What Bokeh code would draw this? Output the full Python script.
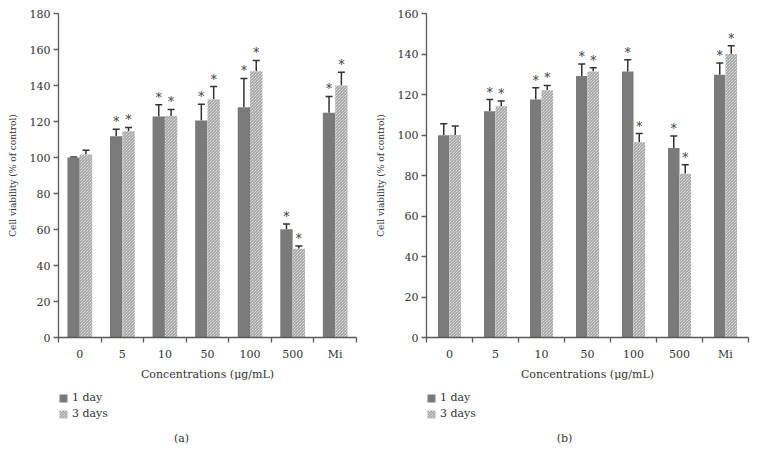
from bokeh.plotting import figure
from bokeh.models import (Range1d, FixedTicker, ColumnDataSource, Whisker, TeeHead,
                          Legend, LegendItem, Label)
from bokeh.layouts import row, column
from bokeh.embed import file_html
from bokeh.resources import INLINE
from bokeh.core.properties import value

# ---------------- data ----------------
categories = ["0", "5", "10", "50", "100", "500", "Mi"]
series_names = ["1 day", "3 days"]

# panel (a)
a_day1 = [100.0, 111.8, 122.8, 120.6, 127.9, 60.2, 124.8]
a_day1_err = [0.3, 3.9, 6.5, 9.0, 16.0, 2.9, 9.1]
a_day3 = [101.7, 114.6, 123.1, 132.2, 147.9, 49.3, 140.0]
a_day3_err = [2.3, 2.1, 3.6, 7.2, 6.0, 1.6, 7.4]
a_sig1 = [False, True, True, True, True, True, True]
a_sig3 = [False, True, True, True, True, True, True]

# panel (b)
b_day1 = [99.9, 111.7, 117.5, 129.1, 131.4, 93.6, 129.7]
b_day1_err = [5.7, 5.8, 5.8, 6.0, 5.7, 5.9, 5.9]
b_day3 = [100.0, 114.2, 122.1, 131.4, 96.4, 80.9, 140.0]
b_day3_err = [4.5, 2.6, 2.4, 1.8, 4.3, 4.4, 4.1]
b_sig1 = [False, True, True, True, True, True, True]
b_sig3 = [False, True, True, True, True, True, True]

x_label = "Concentrations (\u03bcg/mL)"
y_label = "Cell viability (% of control)"

FONT = "DejaVu Serif"
TXT = "#333333"
AX = "#5a5a5a"
DARK = "#7a7a7a"
HATCH = "#8c8c8c"
MAIN_H = 385
LEG_H = 80


def dark_style():
    return dict(fill_color=DARK, line_color=None)


def hatch_style():
    return dict(fill_color="white", line_color=None, hatch_pattern="\\",
                hatch_color=HATCH, hatch_scale=3, hatch_weight=1)


def panel(d1, e1, d3, e3, s1, s3, ymax, bar_w, fig_w, b_left, b_right):
    n = len(categories)
    p = figure(width=fig_w, height=MAIN_H, output_backend="svg", toolbar_location=None,
               x_range=Range1d(0, n), y_range=Range1d(0, ymax),
               min_border_left=b_left, min_border_right=b_right,
               min_border_top=13, min_border_bottom=48)
    p.outline_line_color = None
    p.grid.visible = False

    centers = [i + 0.5 for i in range(n)]
    x1 = [c - bar_w / 2 for c in centers]
    x3 = [c + bar_w / 2 for c in centers]

    src1 = ColumnDataSource(dict(x=x1, top=d1, up=[v + e for v, e in zip(d1, e1)]))
    src3 = ColumnDataSource(dict(x=x3, top=d3, up=[v + e for v, e in zip(d3, e3)]))

    p.vbar(x="x", top="top", bottom=0, width=bar_w, source=src1, **dark_style())
    p.vbar(x="x", top="top", bottom=0, width=bar_w, source=src3, **hatch_style())

    for src in (src1, src3):
        w = Whisker(base="x", lower="top", upper="up", source=src, dimension="height",
                    line_color="#333333", line_width=1.5,
                    lower_head=None,
                    upper_head=TeeHead(size=7, line_color="#333333", line_width=1.5))
        p.add_layout(w)

    # significance stars
    sx = [x for x, s in zip(x1, s1) if s] + [x for x, s in zip(x3, s3) if s]
    sy = [u for u, s in zip(src1.data["up"], s1) if s] + [u for u, s in zip(src3.data["up"], s3) if s]
    p.text(x=sx, y=sy, text=["*"] * len(sx), text_align="center", text_baseline="middle",
           y_offset=-7, text_font=value(FONT), text_font_size="12px", text_color="#3a3a3a")

    # x axis: ticks at category boundaries, labels at centers
    xa = p.xaxis[0]
    xa.ticker = FixedTicker(ticks=centers, minor_ticks=list(range(n + 1)))
    xa.major_label_overrides = {c: lab for c, lab in zip(centers, categories)}
    xa.major_tick_out = 0
    xa.major_tick_in = 0
    xa.minor_tick_out = 5
    xa.minor_tick_in = 0
    xa.minor_tick_line_color = AX
    xa.minor_tick_line_width = 1.3
    xa.axis_line_color = AX
    xa.axis_line_width = 1.3
    xa.major_label_standoff = 5
    xa.major_label_text_font = FONT
    xa.major_label_text_font_size = "11px"
    xa.major_label_text_color = TXT
    xa.axis_label = x_label
    xa.axis_label_text_font = FONT
    xa.axis_label_text_font_size = "11px"
    xa.axis_label_text_font_style = "normal"
    xa.axis_label_text_color = TXT
    xa.axis_label_standoff = 4

    ya = p.yaxis[0]
    ya.ticker = FixedTicker(ticks=list(range(0, ymax + 1, 20)), minor_ticks=[])
    ya.major_tick_out = 5
    ya.major_tick_in = 0
    ya.major_tick_line_color = AX
    ya.major_tick_line_width = 1.3
    ya.axis_line_color = AX
    ya.axis_line_width = 1.3
    ya.major_label_standoff = 3
    ya.major_label_text_font = FONT
    ya.major_label_text_font_size = "11px"
    ya.major_label_text_color = TXT
    ya.axis_label = y_label
    ya.axis_label_text_font = FONT
    ya.axis_label_text_font_size = "9px"
    ya.axis_label_text_font_style = "normal"
    ya.axis_label_text_color = TXT
    ya.axis_label_standoff = 9
    return p


def legend_panel(fig_w, tag, tag_x):
    # frame of this strip is aligned by the column layout with the chart's frame
    q = figure(width=fig_w, height=LEG_H, output_backend="svg", toolbar_location=None,
               x_range=Range1d(0, 1), y_range=Range1d(0, 1),
               x_axis_location=None, y_axis_location=None,
               min_border=0, min_border_left=0, min_border_right=0,
               min_border_top=0, min_border_bottom=0)
    q.outline_line_color = None
    q.grid.visible = False
    # zero-height proxies, only used for the legend swatches
    proxy = dict(x=[0.5], top=[0.0])
    g1 = q.vbar(x="x", top="top", bottom=0, width=0.01, source=ColumnDataSource(proxy), **dark_style())
    g3 = q.vbar(x="x", top="top", bottom=0, width=0.01, source=ColumnDataSource(proxy), **hatch_style())
    leg = Legend(items=[LegendItem(label=series_names[0], renderers=[g1]),
                        LegendItem(label=series_names[1], renderers=[g3])],
                 location=(0, 45), margin=0, padding=0, spacing=3,
                 glyph_width=10, glyph_height=10, label_standoff=4, label_height=10,
                 label_text_font=FONT, label_text_font_size="11px", label_text_color=TXT,
                 border_line_color=None, background_fill_alpha=0)
    q.add_layout(leg)
    q.add_layout(Label(x=tag_x, y=27, x_units="screen", y_units="screen", text=tag,
                       text_align="center", text_baseline="middle", text_font=FONT,
                       text_font_size="11px", text_color=TXT))
    return q


pa = panel(a_day1, a_day1_err, a_day3, a_day3_err, a_sig1, a_sig3, 180, 0.29, 372, 58, 16)
pb = panel(b_day1, b_day1_err, b_day3, b_day3_err, b_sig1, b_sig3, 160, 0.25, 385, 51, 9)
la = legend_panel(372, "(a)", 123)
lb = legend_panel(385, "(b)", 138)

layout = row(column(pa, la), column(pb, lb))
open("out.html", "w").write(file_html(layout, INLINE))
